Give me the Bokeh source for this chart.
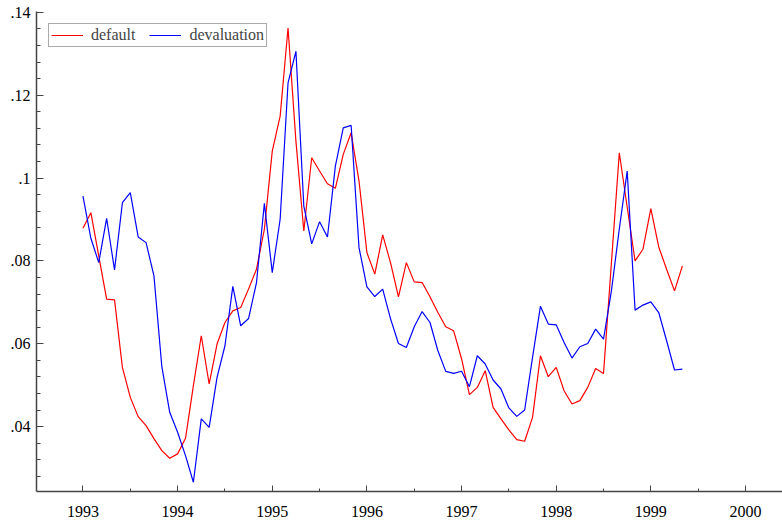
import numpy as np
from bokeh.plotting import figure
from bokeh.models import Range1d, FixedTicker, Legend, LegendItem
from bokeh.embed import file_html
from bokeh.resources import INLINE

# monthly observations starting January 1993
start_year = 1993
default = [0.08788, 0.09164, 0.08120, 0.07077, 0.07060, 0.05429, 0.04706, 0.04241, 0.04024, 0.03711,
           0.03422, 0.03236, 0.03342, 0.03718, 0.04988, 0.06193, 0.05029, 0.05993, 0.06513, 0.06795,
           0.06875, 0.07325, 0.07800, 0.08764, 0.10651, 0.11494, 0.13622, 0.10892, 0.08723, 0.10489,
           0.10169, 0.09863, 0.09752, 0.10571, 0.11092, 0.09928, 0.08200, 0.07680, 0.08627, 0.07952,
           0.07133, 0.07959, 0.07494, 0.07477, 0.07133, 0.06754, 0.06410, 0.06313, 0.05639, 0.04771,
           0.04947, 0.05349, 0.04465, 0.04186, 0.03920, 0.03687, 0.03646, 0.04224, 0.05711, 0.05205,
           0.05429, 0.04867, 0.04547, 0.04627, 0.04947, 0.05405, 0.05284, 0.07952, 0.10610, 0.09301,
           0.08000, 0.08282, 0.09260, 0.08337, 0.07800, 0.07277, 0.07880]
devaluation = [0.09566, 0.08547, 0.07959, 0.09029, 0.07783, 0.09405, 0.09646, 0.08578, 0.08441, 0.07639,
               0.05446, 0.04345, 0.03863, 0.03301, 0.02658, 0.04186, 0.03983, 0.05188, 0.05952, 0.07386,
               0.06434, 0.06610, 0.07477, 0.09390, 0.07718, 0.09005, 0.12296, 0.13060, 0.09325, 0.08410,
               0.08947, 0.08578, 0.10289, 0.11212, 0.11270, 0.08320, 0.07373, 0.07140, 0.07318, 0.06602,
               0.06007, 0.05911, 0.06410, 0.06778, 0.06513, 0.05831, 0.05333, 0.05284, 0.05337, 0.04964,
               0.05711, 0.05511, 0.05125, 0.04908, 0.04451, 0.04248, 0.04402, 0.05670, 0.06904, 0.06475,
               0.06458, 0.06031, 0.05655, 0.05928, 0.06007, 0.06354, 0.06113, 0.07277, 0.08771, 0.10169,
               0.06812, 0.06933, 0.07012, 0.06754, 0.06072, 0.05366, 0.05390]

x_ticks = [1993, 1994, 1995, 1996, 1997, 1998, 1999, 2000]
x_minor = [1993.5, 1994.5, 1995.5, 1996.5, 1997.5, 1998.5, 1999.5]
y_ticks = [0.04, 0.06, 0.08, 0.10, 0.12, 0.14]
y_labels = [".04", ".06", ".08", ".1", ".12", ".14"]
y_minor = [0.028, 0.032, 0.036, 0.044, 0.048, 0.052, 0.056, 0.064, 0.068, 0.072, 0.076,
           0.084, 0.088, 0.092, 0.096, 0.104, 0.108, 0.112, 0.116, 0.124, 0.128, 0.132, 0.136]

months = start_year + np.arange(len(default)) / 12.0

FONT = "Liberation Serif"

p = figure(width=782, height=522, output_backend="svg", toolbar_location=None,
           x_range=Range1d(1992.509, 2000.391), y_range=Range1d(0.02434, 0.1402),
           min_border_left=36, min_border_right=0, min_border_top=11, min_border_bottom=31)
p.grid.visible = False
p.outline_line_color = None
p.background_fill_color = "white"
p.border_fill_color = "white"

r1 = p.line(months, default, line_color="#ff0000", line_width=1.2)
r2 = p.line(months, devaluation, line_color="#0000ff", line_width=1.2)

for ax in (p.xaxis[0], p.yaxis[0]):
    ax.axis_line_color = "#444444"
    ax.axis_line_width = 1.5
    ax.major_tick_line_color = "#444444"
    ax.minor_tick_line_color = "#444444"
    ax.major_tick_out = 0
    ax.minor_tick_out = 0
    ax.major_label_text_font = FONT
    ax.major_label_text_font_size = "16px"
    ax.major_label_text_color = "black"

p.xaxis.ticker = FixedTicker(ticks=x_ticks, minor_ticks=x_minor)
p.xaxis.major_tick_in = 6
p.xaxis.minor_tick_in = 3
p.xaxis.major_label_standoff = 14
p.xaxis.major_label_overrides = {t: str(t) for t in x_ticks}

p.yaxis.ticker = FixedTicker(ticks=y_ticks, minor_ticks=y_minor)
p.yaxis.major_tick_in = 7
p.yaxis.minor_tick_in = 4
p.yaxis.major_label_standoff = 6
p.yaxis.major_label_overrides = {t: l for t, l in zip(y_ticks, y_labels)}

legend = Legend(items=[LegendItem(label="default", renderers=[r1]),
                       LegendItem(label="devaluation", renderers=[r2])],
                orientation="horizontal", location="top_left", margin=12,
                padding=2, spacing=14, glyph_width=32, glyph_height=16,
                label_height=16, label_standoff=8,
                label_text_font=FONT, label_text_font_size="16px",
                border_line_color="#555555", border_line_width=1.5,
                background_fill_alpha=1.0)
p.add_layout(legend, "center")

open("out.html", "w").write(file_html(p, INLINE))
